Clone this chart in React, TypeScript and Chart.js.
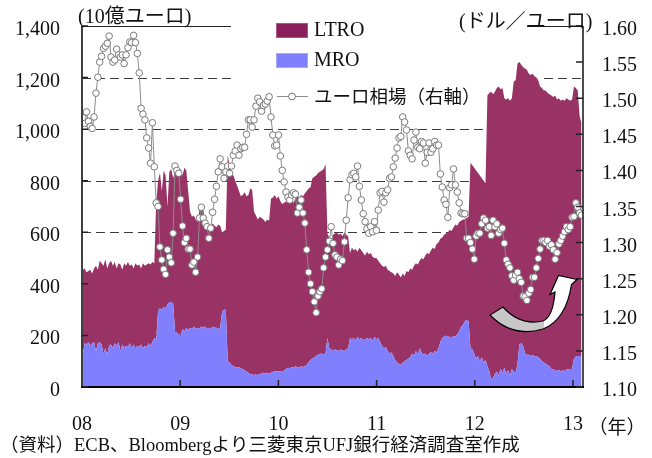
import React, { useEffect, useRef } from "react";
import { Chart, registerables } from "chart.js";

Chart.register(...registerables);

// ---- data (weekly, from first week of 2008) ----
const START_YEAR = 2008.008;
const WEEK = 7 / 365.25;

const YEAR_TICKS = [2008, 2009, 2010, 2011, 2012, 2013];
const YEAR_LABELS = ["08", "09", "10", "11", "12", "13"];
const LEFT_TICKS = [0, 200, 400, 600, 800, 1000, 1200, 1400];
const RIGHT_TICKS = [1.1, 1.15, 1.2, 1.25, 1.3, 1.35, 1.4, 1.45, 1.5, 1.55, 1.6];
const GRID_VALUES = [200, 400, 600, 800, 1000, 1200];

// MRO outstanding (bn EUR)
const MRO = [
  125, 170, 165, 175, 160, 170, 175, 140, 170, 175,
  165, 130, 150, 125, 160, 165, 150, 170, 160, 175,
  140, 165, 150, 160, 155, 170, 150, 165, 150, 160,
  155, 165, 150, 160, 155, 170, 160, 175, 190, 180,
  295, 305, 300, 310, 305, 320, 330, 330, 325, 215,
  210, 205, 200, 225, 215, 230, 220, 230, 225, 235,
  225, 230, 225, 235, 230, 235, 225, 230, 225, 235,
  230, 230, 225, 230, 290, 300, 300, 100, 95, 85,
  80, 78, 75, 78, 72, 70, 65, 60, 55, 50,
  48, 47, 48, 47, 50, 52, 55, 52, 55, 53,
  55, 58, 62, 60, 60, 62, 58, 65, 70, 75,
  72, 78, 75, 80, 78, 75, 80, 78, 80, 85,
  95, 105, 110, 115, 120, 125, 128, 130, 125, 130,
  190, 150, 145, 140, 145, 143, 140, 145, 143, 140,
  145, 150, 190, 185, 190, 180, 195, 185, 190, 180,
  185, 190, 185, 190, 180, 195, 185, 190, 175, 160,
  150, 155, 140, 130, 135, 120, 105, 95, 90, 85,
  95, 100, 105, 110, 115, 130, 120, 140, 125, 150,
  135, 125, 130, 120, 130, 135, 130, 140, 135, 150,
  175, 190, 195, 200, 195, 195, 190, 200, 195, 205,
  215, 235, 240, 255, 260, 255, 150, 145, 130, 110,
  120, 100, 115, 95, 105, 80, 60, 30, 35, 50,
  60, 45, 70, 55, 75, 50, 65, 45, 70, 60,
  55, 90, 165, 170, 160, 130, 125, 125, 120, 125,
  118, 120, 115, 110, 100, 95, 90, 85, 80, 70,
  68, 65, 62, 66, 60, 65, 62, 68, 70, 66,
  72, 110, 118, 120, 120, 120,
];

// LTRO outstanding (bn EUR)
const LTRO = [
  330, 290, 280, 275, 295, 270, 285, 330, 285, 315,
  315, 340, 345, 335, 320, 325, 320, 315, 300, 305,
  335, 290, 330, 310, 330, 300, 325, 295, 330, 310,
  320, 295, 330, 310, 320, 310, 315, 310, 290, 535,
  505, 525, 460, 530, 515, 380, 505, 515, 485, 625,
  640, 625, 645, 595, 635, 610, 540, 450, 435, 430,
  425, 410, 465, 465, 460, 405, 405, 395, 395, 400,
  395, 390, 405, 395, 310, 305, 310, 800, 765, 745,
  740, 722, 705, 682, 668, 675, 690, 680, 690, 720,
  717, 633, 617, 603, 610, 603, 595, 588, 595, 592,
  675, 677, 683, 670, 680, 658, 652, 650, 650, 640,
  648, 647, 640, 650, 662, 660, 665, 662, 670, 675,
  675, 670, 700, 700, 700, 705, 707, 710, 720, 735,
  405, 430, 425, 450, 450, 457, 450, 450, 442, 460,
  445, 435, 330, 355, 340, 355, 330, 355, 340, 340,
  325, 335, 330, 330, 325, 305, 315, 300, 305, 310,
  315, 315, 315, 320, 310, 320, 325, 350, 345, 340,
  345, 330, 345, 335, 345, 325, 350, 340, 350, 340,
  365, 370, 380, 400, 385, 395, 410, 395, 420, 410,
  400, 390, 395, 395, 405, 415, 415, 420, 435, 420,
  425, 410, 410, 395, 395, 405, 720, 715, 720, 730,
  710, 720, 695, 705, 685, 1050, 1080, 1115, 1100, 1095,
  1100, 1120, 1085, 1105, 1045, 1065, 1055, 1065, 1050, 1125,
  1135, 1165, 1095, 1080, 1080, 1105, 1105, 1090, 1090, 1090,
  1087, 1080, 1075, 1055, 1060, 1055, 1060, 1055, 1055, 1060,
  1057, 1065, 1053, 1054, 1050, 1050, 1048, 1052, 1045, 1044,
  1043, 1055, 1042, 1030, 930, 905,
];

// EUR/USD (right axis)
const EUR_USD = [
  1.473, 1.465, 1.481, 1.468, 1.461, 1.458, 1.474, 1.507, 1.529, 1.55,
  1.558, 1.569, 1.572, 1.576, 1.586, 1.557, 1.55, 1.553, 1.568, 1.56,
  1.557, 1.56, 1.548, 1.56, 1.57, 1.578, 1.577, 1.587, 1.577, 1.562,
  1.535, 1.486, 1.478, 1.47, 1.445, 1.431, 1.41, 1.466, 1.405, 1.355,
  1.35, 1.294, 1.276, 1.263, 1.256, 1.29, 1.28, 1.272, 1.313, 1.406,
  1.4, 1.396, 1.36, 1.323, 1.3, 1.306, 1.291, 1.291, 1.269, 1.273,
  1.259, 1.28, 1.334, 1.349, 1.334, 1.327, 1.322, 1.306, 1.32, 1.342,
  1.36, 1.378, 1.398, 1.416, 1.405, 1.389, 1.398, 1.406, 1.396, 1.406,
  1.421, 1.427, 1.435, 1.421, 1.43, 1.432, 1.432, 1.45, 1.47, 1.47,
  1.46, 1.47, 1.489, 1.5, 1.495, 1.482, 1.49, 1.492, 1.496, 1.502,
  1.474, 1.449, 1.434, 1.435, 1.449, 1.42, 1.4, 1.384, 1.37, 1.363,
  1.359, 1.366, 1.369, 1.367, 1.341, 1.349, 1.359, 1.341, 1.327, 1.29,
  1.259, 1.243, 1.232, 1.218, 1.203, 1.226, 1.232, 1.236, 1.265, 1.28,
  1.29, 1.302, 1.322, 1.299, 1.283, 1.28, 1.269, 1.277, 1.275, 1.301,
  1.331, 1.362, 1.387, 1.394, 1.396, 1.391, 1.406, 1.378, 1.359, 1.34,
  1.329, 1.319, 1.313, 1.322, 1.315, 1.329, 1.317, 1.345, 1.369, 1.371,
  1.356, 1.369, 1.373, 1.389, 1.391, 1.405, 1.417, 1.431, 1.445, 1.447,
  1.474, 1.467, 1.456, 1.427, 1.421, 1.416, 1.442, 1.453, 1.432, 1.43,
  1.44, 1.438, 1.41, 1.425, 1.438, 1.425, 1.43, 1.44, 1.435, 1.435,
  1.395, 1.377, 1.359, 1.353, 1.335, 1.376, 1.38, 1.402, 1.38, 1.37,
  1.355, 1.341, 1.34, 1.34, 1.306, 1.306, 1.3, 1.291, 1.277, 1.309,
  1.313, 1.313, 1.326, 1.334, 1.331, 1.32, 1.322, 1.31, 1.331, 1.322,
  1.326, 1.313, 1.318, 1.32, 1.299, 1.276, 1.27, 1.265, 1.254, 1.248,
  1.255, 1.259, 1.25, 1.245, 1.226, 1.225, 1.22, 1.23, 1.235, 1.252,
  1.252, 1.265, 1.278, 1.291, 1.303, 1.303, 1.3, 1.303, 1.295, 1.297,
  1.29, 1.277, 1.286, 1.298, 1.303, 1.309, 1.315, 1.322, 1.318, 1.322,
  1.335, 1.336, 1.355, 1.349, 1.341, 1.338,
];

const LTRO_COLOR = "#993366";
const MRO_COLOR = "#8080ff";
const SERIF = "'Liberation Serif', 'Times New Roman', 'Noto Sans CJK JP', serif";
const JP = "'Noto Sans CJK JP', 'Liberation Serif', sans-serif";

const xAt = (i: number) => START_YEAR + i * WEEK;
const toPts = (arr: number[]) => arr.map((v, i) => ({ x: xAt(i), y: v }));

const decoPlugin = {
  id: "deco",
  beforeDatasetsDraw(chart: any) {
    const { ctx, chartArea: a, scales } = chart;
    const y = scales.y;
    ctx.save();
    ctx.strokeStyle = "#3a3a3a";
    ctx.lineWidth = 1;
    ctx.setLineDash([9, 5]);
    for (const v of GRID_VALUES) {
      const py = Math.round(y.getPixelForValue(v)) + 0.5;
      ctx.beginPath();
      ctx.moveTo(a.left, py);
      ctx.lineTo(a.right, py);
      ctx.stroke();
    }
    ctx.setLineDash([]);
    // legend background box
    ctx.fillStyle = "#ffffff";
    ctx.fillRect(231, 8, 312, 105);
    ctx.restore();
  },
  afterDatasetsDraw(chart: any) {
    const { ctx, chartArea: a, scales } = chart;
    const x = scales.x;
    const y = scales.y;
    const y1 = scales.y1;
    ctx.save();

    // top border segments
    ctx.strokeStyle = "#222";
    ctx.lineWidth = 1;
    ctx.beginPath();
    ctx.moveTo(a.left, a.top + 0.5);
    ctx.lineTo(231, a.top + 0.5);
    ctx.moveTo(527, a.top + 0.5);
    ctx.lineTo(a.right, a.top + 0.5);
    ctx.stroke();

    // left axis
    ctx.strokeStyle = "#404040";
    ctx.lineWidth = 2;
    ctx.beginPath();
    ctx.moveTo(a.left, a.top);
    ctx.lineTo(a.left, a.bottom + 1);
    ctx.stroke();
    // right axis
    ctx.strokeStyle = "#111";
    ctx.lineWidth = 1.5;
    ctx.beginPath();
    ctx.moveTo(a.right, a.top);
    ctx.lineTo(a.right, a.bottom + 1);
    ctx.stroke();
    // bottom axis
    ctx.strokeStyle = "#000";
    ctx.lineWidth = 2;
    ctx.beginPath();
    ctx.moveTo(a.left - 1, a.bottom);
    ctx.lineTo(a.right + 1, a.bottom);
    ctx.stroke();

    // tick marks (inside)
    ctx.lineWidth = 1.5;
    ctx.strokeStyle = "#222";
    ctx.beginPath();
    for (const v of LEFT_TICKS) {
      const py = y.getPixelForValue(v);
      ctx.moveTo(a.left, py);
      ctx.lineTo(a.left + 6, py);
    }
    for (const v of RIGHT_TICKS) {
      const py = y1.getPixelForValue(v);
      ctx.moveTo(a.right, py);
      ctx.lineTo(a.right - 7, py);
    }
    for (const yr of YEAR_TICKS) {
      const px = x.getPixelForValue(yr);
      if (px < a.left + 2) continue;
      ctx.moveTo(px, a.bottom);
      ctx.lineTo(px, a.bottom - 7);
    }
    ctx.stroke();

    // tick labels
    ctx.fillStyle = "#111";
    ctx.font = `20px ${SERIF}`;
    ctx.textBaseline = "alphabetic";
    ctx.textAlign = "right";
    for (const v of LEFT_TICKS) {
      const py = y.getPixelForValue(v);
      ctx.fillText(v.toLocaleString("en-US"), 60, py + 9);
    }
    ctx.textAlign = "left";
    for (const v of RIGHT_TICKS) {
      const py = y1.getPixelForValue(v);
      ctx.fillText(v.toFixed(2), 602, py + 9);
    }
    ctx.textAlign = "center";
    YEAR_TICKS.forEach((yr, i) => {
      const px = x.getPixelForValue(yr);
      ctx.fillText(YEAR_LABELS[i], px, 430);
    });
    ctx.textBaseline = "middle";
    ctx.font = `19px ${JP}`;
    ctx.fillText("（年）", 617, 427);

    // axis titles
    ctx.textAlign = "left";
    ctx.font = `20px ${SERIF}`;
    ctx.fillText("(10億ユーロ)", 78, 18);
    ctx.fillText("(ドル／ユーロ)", 459, 23);

    // legend
    ctx.fillStyle = "#8a1f5c";
    ctx.fillRect(276, 23, 32, 15);
    ctx.strokeStyle = "#b0577f";
    ctx.lineWidth = 1;
    ctx.strokeRect(276.5, 23.5, 31, 14);
    ctx.fillStyle = MRO_COLOR;
    ctx.fillRect(276, 53, 32, 15);
    ctx.strokeStyle = "#a8a8ff";
    ctx.strokeRect(276.5, 53.5, 31, 14);
    ctx.strokeStyle = "#8c8c8c";
    ctx.beginPath();
    ctx.moveTo(277, 96.5);
    ctx.lineTo(308, 96.5);
    ctx.stroke();
    ctx.beginPath();
    ctx.arc(292, 96.5, 3.4, 0, Math.PI * 2);
    ctx.fillStyle = "#fff";
    ctx.fill();
    ctx.strokeStyle = "#7a7a7a";
    ctx.stroke();
    ctx.fillStyle = "#111";
    ctx.font = `20px ${SERIF}`;
    ctx.fillText("LTRO", 314, 31);
    ctx.fillText("MRO", 314, 61);
    ctx.font = `18.5px ${JP}`;
    ctx.fillText("ユーロ相場（右軸）", 314, 96);

    // source
    ctx.font = `18.5px ${SERIF}`;
    ctx.fillText("（資料）ECB、Bloombergより三菱東京UFJ銀行経済調査室作成", 0, 446);

    // curved arrow
    ctx.beginPath();
    ctx.moveTo(503, 307);
    ctx.quadraticCurveTo(520, 326, 543, 321);
    ctx.quadraticCurveTo(553, 317, 555, 292);
    ctx.lineTo(550, 294.5);
    ctx.lineTo(558.5, 275.5);
    ctx.lineTo(577, 279.5);
    ctx.lineTo(571.5, 284.5);
    ctx.quadraticCurveTo(566, 320, 543, 329);
    ctx.quadraticCurveTo(512, 338, 490, 315);
    ctx.closePath();
    ctx.fillStyle = "#ffffff";
    ctx.fill();
    ctx.save();
    ctx.clip();
    ctx.fillStyle = "#c8c8c8";
    ctx.fillRect(480, 290, 64, 50);
    ctx.restore();
    ctx.strokeStyle = "#000";
    ctx.lineWidth = 1.2;
    ctx.stroke();

    ctx.restore();
  },
};

export default function App() {
  const ref = useRef<HTMLCanvasElement | null>(null);
  useEffect(() => {
    if (!ref.current) return;
    const chart = new Chart(ref.current, {
      type: "line",
      data: {
        datasets: [
          {
            label: "MRO",
            data: toPts(MRO),
            yAxisID: "y",
            backgroundColor: MRO_COLOR,
            borderWidth: 0,
            pointRadius: 0,
            fill: "origin",
            order: 1,
            tension: 0,
          },
          {
            label: "LTRO",
            data: toPts(LTRO),
            yAxisID: "y",
            backgroundColor: LTRO_COLOR,
            borderWidth: 0,
            pointRadius: 0,
            fill: "-1",
            order: 2,
            tension: 0,
          },
          {
            label: "ユーロ相場（右軸）",
            data: toPts(EUR_USD),
            yAxisID: "y1",
            borderColor: "#8c8c8c",
            borderWidth: 1,
            pointRadius: 3.3,
            pointBackgroundColor: "#ffffff",
            pointBorderColor: "#7a7a7a",
            pointBorderWidth: 1,
            fill: false,
            order: 0,
            tension: 0,
          },
        ],
      } as any,
      options: {
        animation: false,
        responsive: false,
        events: [],
        layout: { padding: { left: 82, right: 69, top: 26, bottom: 71 } },
        plugins: { legend: { display: false }, tooltip: { enabled: false } },
        scales: {
          x: { type: "linear", min: 2008, max: 2013.102, display: false },
          y: { min: 0, max: 1400, stacked: true, display: false },
          y1: { min: 1.1, max: 1.6, display: false, position: "right" },
        },
      } as any,
      plugins: [decoPlugin],
    });
    return () => chart.destroy();
  }, []);
  return (
    <div style={{ position: "absolute", left: 0, top: 0, width: 652, height: 458, background: "#fff" }}>
      <canvas ref={ref} width={652} height={458} style={{ display: "block" }} />
    </div>
  );
}
